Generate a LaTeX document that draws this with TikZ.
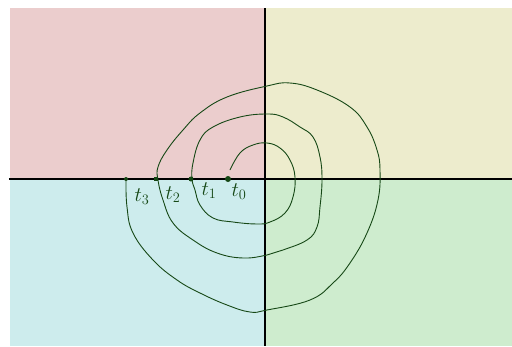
\documentclass[tikz,border=0pt]{standalone}
\usetikzlibrary{positioning}
\definecolor{qa}{RGB}{235,205,205}
\definecolor{qb}{RGB}{237,236,205}
\definecolor{qc}{RGB}{205,236,237}
\definecolor{qd}{RGB}{206,236,206}
\definecolor{curve}{RGB}{22,72,22}
\begin{document}
\begin{tikzpicture}[x=1pt,y=1pt,dot/.style={circle,fill=curve,inner sep=0pt,minimum size=5pt},lab/.style={text=curve,font=\fontsize{22}{22}\selectfont,inner sep=0pt}]
  \useasboundingbox (-265,-167) rectangle (247,179);
  \fill[qa] (-255,0) rectangle (0,171); \fill[qb] (0,0) rectangle (247,171);
  \fill[qc] (-255,-167) rectangle (0,0); \fill[qd] (0,-167) rectangle (247,0);
  \draw[line width=1.1pt] (-256,0)--(247,0); \draw[line width=1.1pt] (0,171)--(0,-167);
  \draw[curve,line width=0.9pt,smooth,tension=0.7] plot coordinates {(-35,9) (-25,26) (-12,34) (2,36) (15,31) (25,19) (30,2) (28,-18) (20,-34) (5,-43) (-8,-45) (-32,-43) (-52,-39) (-65,-26) (-70,-11) (-73,0)
    (-72,16) (-65,39) (-52,52) (-25,62) (2,65) (18,62) (35,52) (48,42) (55,22) (57,-1) (55,-28) (52,-48) (42,-61) (18,-71) (2,-76) (-22,-79) (-48,-74) (-72,-61) (-92,-44) (-102,-21) (-107,-1)
    (-107,12) (-98,29) (-82,49) (-65,66) (-38,82) (2,93) (25,96) (52,89) (85,72) (102,52) (112,29) (115,9) (113,-21) (102,-54) (85,-84) (68,-104) (45,-121) (2,-131) (-15,-133) (-38,-126) (-65,-114) (-88,-101) (-112,-81) (-132,-54) (-138,-28) (-139,-1)};
  \node[dot,minimum size=6pt] (t0) at (-37,0) {}; \node[dot] (t1) at (-74,0) {};
  \node[dot,rectangle,minimum size=4.5pt] (t2) at (-109,0) {}; \node[dot,minimum size=4pt] (t3) at (-139,0) {};
  \node[lab] (l0) at (-26,-13) {$t_0$}; \node[lab] (l1) at (-56,-12) {$t_1$};
  \node[lab] (l2) at (-92,-16) {$t_2$}; \node[lab] (l3) at (-123,-18) {$t_3$};
\end{tikzpicture}
\end{document}
